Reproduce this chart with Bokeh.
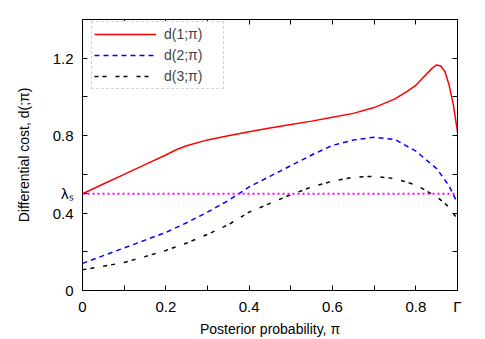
from bokeh.plotting import figure
from bokeh.models import (Range1d, FixedTicker, LinearAxis, Span, Legend, LegendItem)
from bokeh.embed import file_html
from bokeh.resources import INLINE

# ---- data ----
pi1 = [0, 0.05, 0.1, 0.15, 0.2, 0.225, 0.25, 0.3, 0.35, 0.4, 0.45, 0.5, 0.55, 0.6, 0.65, 0.7,
       0.75, 0.78, 0.8, 0.82, 0.84, 0.85, 0.86, 0.87, 0.88, 0.89, 0.9]
d1 = [0.5, 0.55, 0.6, 0.65, 0.70, 0.727, 0.748, 0.778, 0.80, 0.82, 0.84, 0.857, 0.875, 0.895, 0.915, 0.945,
      0.99, 1.03, 1.06, 1.105, 1.15, 1.165, 1.16, 1.13, 1.06, 0.96, 0.82]

pi2 = [0, 0.05, 0.1, 0.15, 0.2, 0.25, 0.3, 0.35, 0.4, 0.45, 0.5, 0.55, 0.6, 0.65, 0.7,
       0.75, 0.8, 0.85, 0.88, 0.9]
d2 = [0.14, 0.18, 0.22, 0.26, 0.30, 0.35, 0.405, 0.465, 0.535, 0.59, 0.645, 0.70, 0.75, 0.777, 0.792,
      0.78, 0.72, 0.63, 0.54, 0.45]

pi3 = [0, 0.05, 0.1, 0.15, 0.2, 0.25, 0.3, 0.35, 0.4, 0.45, 0.5, 0.55, 0.6, 0.65, 0.7,
       0.75, 0.8, 0.85, 0.875, 0.9]
d3 = [0.107, 0.125, 0.145, 0.175, 0.207, 0.245, 0.29, 0.34, 0.405, 0.45, 0.495, 0.535, 0.565, 0.585, 0.59,
      0.578, 0.545, 0.485, 0.44, 0.37]

lambda_s = 0.5
gamma_pos = 0.9

x_ticks = [0, 0.2, 0.4, 0.6, 0.8, gamma_pos]
x_minor = [0.1, 0.3, 0.5, 0.7]
y_ticks = [0, 0.4, lambda_s, 0.8, 1.2]
y_minor = [0.2, 0.6, 1.0]
top_ticks = [0.1, 0.2, 0.3, 0.4, 0.5, 0.6, 0.7, 0.8]
right_ticks = [0.2, 0.4, 0.6, 0.8, 1.0, 1.2]

SANS = "Liberation Sans"

p = figure(width=485, height=339, output_backend="svg", toolbar_location=None,
           x_range=Range1d(0, 0.9), y_range=Range1d(0, 1.4),
           min_border_left=82, min_border_right=28, min_border_top=19, min_border_bottom=49)
p.xgrid.visible = False
p.ygrid.visible = False
p.outline_line_color = "black"
p.outline_line_width = 1
p.background_fill_color = "white"
p.border_fill_color = "white"

def style_axis(ax):
    ax.axis_line_color = "black"
    ax.major_tick_in = 5
    ax.major_tick_out = 0
    ax.minor_tick_in = 5
    ax.minor_tick_out = 0
    ax.major_tick_line_color = "black"
    ax.minor_tick_line_color = "black"
    ax.major_label_text_font = SANS
    ax.major_label_text_font_size = "15px"
    ax.major_label_text_color = "black"
    ax.axis_label_text_font = SANS
    ax.axis_label_text_font_size = "14px"
    ax.axis_label_text_font_style = "normal"
    ax.axis_label_text_color = "black"

xa = p.xaxis[0]
xa.ticker = FixedTicker(ticks=x_ticks, minor_ticks=x_minor)
xa.major_label_overrides = {0: "0", gamma_pos: "Γ"}
xa.axis_label = "Posterior probability, π"
xa.major_label_standoff = 7
xa.axis_label_standoff = 3
style_axis(xa)

ya = p.yaxis[0]
ya.ticker = FixedTicker(ticks=y_ticks, minor_ticks=y_minor)
ya.major_label_overrides = {0: "0", lambda_s: "λₛ"}
ya.axis_label = "Differential cost, d(;π)"
ya.major_label_standoff = 9
ya.axis_label_standoff = 18
style_axis(ya)

top = LinearAxis(ticker=FixedTicker(ticks=top_ticks, minor_ticks=[]))
style_axis(top)
top.major_label_text_font_size = "1px"
top.major_label_text_color = None
top.major_label_standoff = 0
p.add_layout(top, "above")

right = LinearAxis(ticker=FixedTicker(ticks=right_ticks, minor_ticks=[]))
style_axis(right)
right.major_label_text_font_size = "1px"
right.major_label_text_color = None
right.major_label_standoff = 0
p.add_layout(right, "right")

# lambda_s line
p.add_layout(Span(location=lambda_s, dimension="width", line_color="#ff00ff",
                  line_width=2, line_dash="2 3"))

r1 = p.line(pi1, d1, line_color="#ff0000", line_width=1.5)
r2 = p.line(pi2, d2, line_color="#0000ff", line_width=1.5, line_dash="5 4")
r3 = p.line(pi3, d3, line_color="black", line_width=1.5, line_dash="4 4 4 9")

legend = Legend(items=[LegendItem(label="d(1;π)", renderers=[r1]),
                       LegendItem(label="d(2;π)", renderers=[r2]),
                       LegendItem(label="d(3;π)", renderers=[r3])],
                location=(9, 201), padding=2, spacing=1, margin=0,
                glyph_width=62, glyph_height=20, label_height=20, label_width=57,
                label_standoff=8, label_text_font=SANS, label_text_font_size="14px",
                border_line_color="#aaaaaa", border_line_dash="1 1", border_line_width=1,
                background_fill_alpha=1.0)
p.add_layout(legend, "center")

open("out.html", "w").write(file_html(p, INLINE))
